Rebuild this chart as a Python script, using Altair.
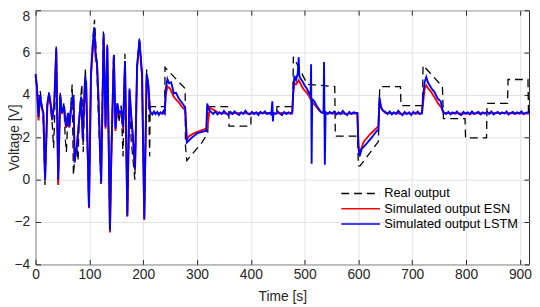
import altair as alt
import pandas as pd

# ---------------- data ----------------
series_names = ["Real output", "Simulated output ESN", "Simulated output LSTM"]
series_colors = ["#000000", "#ff0000", "#0000ff"]
series_dashes = [[8, 5], [1, 0], [1, 0]]

x_ticks = [0, 100, 200, 300, 400, 500, 600, 700, 800, 900]
y_ticks = [-4, -2, 0, 2, 4, 6, 8]

real_t = [0, 3, 5.5, 8.5, 11.5, 14, 17.5, 22, 25, 28, 31, 33.5, 35.5, 38.3, 42,
          45.7, 49, 52.5, 55, 57.3, 60, 63, 66.5, 68, 70.3, 73, 76.7, 79, 81, 84,
          86, 88.5, 92.5, 99.2, 103, 106, 109.5, 113, 116, 121.5, 126, 130, 133.3,
          138.2, 145, 148.5, 152, 155, 159, 162.5, 166, 170.5, 174.7, 177.5, 184.5,
          188.7, 193, 197.8, 202, 206.4, 209.5, 212, 213,
          240, 240.5, 278, 278.5, 281, 309, 320, 320.5, 359, 359.5, 400, 400.5,
          448, 448.5, 478, 479, 505, 556, 557, 598, 600, 603, 637, 639.5, 678, 679,
          719, 720, 756, 758, 798, 799, 838, 839, 877, 878, 915, 916, 917]
real_v = [4.8, 4.3, 3.0, 4.2, 3.6, 3.0, -0.25, 3.5, 4.15, 3.4, 2.6, 1.5, 3.0, 6.3, -0.25,
          4.1, 3.2, 3.6, 2.0, 1.3, 3.0, 2.6, 3.9, 4.5, 0.2, 1.1, 1.5, 0.9, 2.8, 3.9,
          4.5, 1.3, 5.3, -1.3, 5.0, 6.5, 7.55, 5.9, 3.5, -0.2, 7.0, 2.6, 6.4,
          -2.35, 5.95, 2.5, 3.6, 2.7, 3.5, 1.1, 5.95, -1.7, 4.2, 1.9, 0.0,
          5.4, 6.7, 5.0, -1.85, 5.2, 4.5, 1.1, 3.45,
          3.45, 5.3, 4.3, 1.6, 0.9, 1.75, 2.2, 3.45, 3.45, 2.53, 2.53, 3.15,
          3.15, 3.45, 3.45, 5.8, 4.5, 4.4, 2.06, 2.06, 0.65, 0.65, 1.8, 4.39, 4.39, 3.5,
          3.5, 5.4, 4.39, 2.88, 2.88, 1.97, 1.97, 3.6, 3.6, 4.73, 4.73, 3.15, 3.15]

lstm_t = [0, 2.5, 5.5, 8, 11.5, 14.5, 17.6, 21.9, 25, 28, 31, 34.7, 38.4, 42,
          45.7, 49.3, 53, 56.6, 60.3, 62.7, 66.3, 70.6, 72.5, 76.7, 81, 84.6, 87.7,
          92, 94, 99.2, 103, 105, 109, 112, 114, 117, 121.8, 126.5, 130, 133.3,
          138.2, 141, 145.5, 148.5, 152, 155, 159.5, 162.6, 166.2, 170.5, 174.5,
          177.8, 181, 184.8, 188.7, 193, 197.8, 202, 206.4, 209.5, 212.5,
          214, 217, 220, 223, 226, 229, 232, 235, 238, 240, 242, 245, 248, 252, 257,
          261, 266, 270, 275, 278, 281, 285, 290, 296, 302, 308, 314, 317, 319, 322,
          326, 330, 334, 338, 342, 346, 350, 354, 358, 362, 366, 370, 374, 378, 382,
          386, 390, 394, 398, 402, 406, 410, 414, 418, 422, 426, 430, 434, 438, 440,
          441, 442, 446, 450, 454, 458, 462, 466, 470, 474, 477,
          479, 481, 484, 487, 489, 490, 493, 497, 500, 504, 508, 511, 512, 513, 514,
          518, 522, 526, 530, 535, 536, 537.5, 539, 543, 547, 551, 555, 559, 563,
          567, 571, 575, 579, 583, 587, 591, 595, 598,
          600, 602, 606, 615, 625, 634, 637, 639, 642, 646, 650, 654, 658, 662, 666,
          670, 674, 678, 682, 686, 690, 694, 698, 702, 706, 710, 714, 718,
          720, 723, 726, 729, 732, 736, 741, 747, 753, 756, 759, 763, 767, 771, 775,
          779, 783, 787, 791, 795, 799, 803, 807, 811, 815, 819, 823, 827, 831, 835,
          839, 843, 847, 851, 855, 859, 863, 867, 871, 875, 879, 883, 887, 891, 895,
          899, 903, 907, 911, 915, 917]
lstm_v = [5.0, 4.4, 2.95, 4.0, 3.45, 3.15, 0.0, 3.6, 4.07, 3.6, 2.84, 3.6, 6.2, 0.0,
          4.0, 3.15, 3.46, 2.5, 3.15, 2.5, 3.46, 4.0, 0.8, 1.6, 2.84, 3.92, 1.9,
          4.85, 4.6, -1.3, 5.0, 5.9, 7.2, 5.8, 5.6, 3.8, -0.15, 6.9, 2.5, 6.3,
          -2.4, 1.5, 5.9, 2.4, 3.6, 3.15, 3.25, 2.5, 5.6, -1.7, 4.3,
          3.0, 2.0, 0.5, 5.4, 6.6, 5.0, -1.85, 5.0, 4.5, 3.3,
          3.15, 3.08, 3.22, 3.1, 3.2, 3.05, 3.18, 3.12, 3.25, 3.15, 4.3, 4.75, 4.55, 4.6, 4.07,
          4.1, 3.84, 3.7, 3.53, 3.4, 1.75, 1.85, 1.98, 2.1, 2.21, 2.25, 2.29, 2.3, 3.6, 3.3,
          3.2, 3.1, 3.22, 3.08, 3.18, 3.1, 3.25, 3.12, 3.05, 3.2, 3.1, 3.22, 3.12, 3.05, 3.18,
          3.1, 3.25, 3.12, 3.08, 3.2, 3.1, 3.18, 3.05, 3.2, 3.12, 3.22, 3.1, 3.15, 3.08, 3.7,
          2.75, 3.15, 3.1, 3.22, 3.12, 3.05, 3.2, 3.1, 3.18, 3.12, 3.2,
          4.3, 4.9, 4.7, 5.0, 5.78, 4.9, 4.75, 4.6, 4.45, 4.3, 4.1, 3.9, 5.45, 0.75, 3.8,
          3.7, 3.5, 3.35, 3.2, 3.15, 5.55, 0.7, 3.2, 3.1, 3.2, 3.12, 3.22, 3.08, 3.18,
          3.1, 3.25, 3.12, 3.05, 3.2, 3.1, 3.18, 3.15, 3.15,
          1.5, 1.1, 1.45, 1.7, 2.0, 2.3, 2.35, 3.9, 3.4, 3.25, 3.2, 3.1, 3.22, 3.08, 3.18,
          3.1, 3.25, 3.12, 3.05, 3.2, 3.1, 3.18, 3.05, 3.2, 3.12, 3.22, 3.1, 3.15,
          3.9, 4.6, 4.85, 4.6, 4.47, 4.3, 4.15, 3.84, 3.69, 3.3, 3.15, 3.1, 3.2, 3.08, 3.18,
          3.12, 3.22, 3.1, 3.05, 3.2, 3.12, 3.18, 3.08, 3.22, 3.1, 3.15, 3.2, 3.08, 3.18, 3.12,
          3.2, 3.1, 3.22, 3.08, 3.15, 3.2, 3.1, 3.18, 3.12, 3.22, 3.08, 3.15, 3.2, 3.1, 3.18,
          3.12, 3.22, 3.1, 3.15, 3.18, 3.15]

esn_t = [0, 2.5, 5.5, 8, 11.5, 14.5, 17.6, 21.9, 25, 28, 31, 34.7, 38.4, 42,
         45.7, 49.3, 53, 56.6, 60.3, 62.7, 66.3, 70.6, 72.5, 76.7, 81, 84.6, 87.7,
         92, 94, 99.2, 103, 105, 109, 112, 114, 117, 121.8, 126.5, 130, 133.3,
         138.2, 141, 145.5, 148.5, 152, 155, 159.5, 162.6, 166.2, 170.5, 174.5,
         177.8, 181, 184.8, 188.7, 193, 197.8, 202, 206.4, 209.5, 212.5,
         214, 225, 240, 242, 245, 250, 257, 266, 275, 278, 281, 285, 295, 305, 316, 319,
         324, 340, 360, 380, 400, 420, 440, 460, 477, 479, 481, 484, 489, 493, 497, 504,
         508, 514, 520, 526, 532, 560, 598, 600, 603, 610, 620, 634, 637, 639, 644, 650,
         680, 718, 720, 723, 726, 730, 735, 741, 748, 754, 758, 800, 850, 917]
esn_v = [4.9, 4.3, 2.8, 3.9, 3.4, 3.1, -0.05, 3.5, 4.0, 3.5, 2.8, 3.55, 6.1, -0.25,
         3.9, 3.1, 3.4, 2.45, 3.1, 2.45, 3.4, 3.8, 0.9, 1.55, 2.8, 3.85, 2.0,
         4.7, 4.4, -1.35, 4.9, 5.7, 6.9, 5.6, 5.5, 3.7, -0.2, 6.7, 2.4, 6.2,
         -2.5, 1.4, 5.8, 2.3, 3.5, 3.1, 3.2, 2.4, 5.5, -1.75, 4.2,
         2.9, 1.9, 0.45, 5.3, 6.5, 4.9, -1.9, 4.9, 4.4, 3.25,
         3.12, 3.15, 3.12, 4.0, 4.4, 4.3, 3.9, 3.65, 3.35, 3.3, 1.9, 2.05, 2.2, 2.3, 2.4, 2.42,
         3.4, 3.15, 3.12, 3.15, 3.12, 3.15, 3.12, 3.15, 3.12, 4.1, 4.55, 4.5, 4.7, 4.5, 4.3, 4.1,
         3.95, 3.65, 3.5, 3.3, 3.15, 3.12, 3.12, 1.6, 1.3, 1.8, 2.1, 2.45, 2.5, 3.7, 3.3, 3.15,
         3.12, 3.12, 3.6, 4.3, 4.45, 4.3, 4.15, 3.9, 3.6, 3.4, 3.15, 3.12, 3.15, 3.12]

rows = []
for name, ts, vs in [(series_names[0], real_t, real_v),
                     (series_names[1], esn_t, esn_v),
                     (series_names[2], lstm_t, lstm_v)]:
    for t, v in zip(ts, vs):
        rows.append({"t": t, "v": v, "series": name})
df = pd.DataFrame(rows)

FONT = "Liberation Sans"
TXT = "#262626"
x_scale = alt.Scale(domain=[0, 917], nice=False, zero=False)
y_scale = alt.Scale(domain=[-4, 8], nice=False, zero=False)

x_axis = alt.Axis(values=x_ticks, orient="bottom", offset=-5, tickSize=5, domain=False,
                  grid=True, gridColor="#e3e3e3", tickColor=TXT, labelColor=TXT,
                  labelFont=FONT, labelFontSize=14, labelPadding=3, labelFlush=False,
                  format="d", title="Time [s]", titleFont=FONT, titleFontSize=14,
                  titleFontWeight="normal", titleColor=TXT, titleY=31)
y_axis = alt.Axis(values=y_ticks, orient="left", offset=-5, tickSize=5, domain=False,
                  grid=True, gridColor="#e3e3e3", tickColor=TXT, labelColor=TXT,
                  labelFont=FONT, labelFontSize=14, labelPadding=6, format="d",
                  labelOffset={"condition": {"test": "datum.value == 8", "value": 6},
                               "value": 0},
                  title="Voltage [V]", titleFont=FONT, titleFontSize=14,
                  titleFontWeight="normal", titleColor=TXT, titleX=-19.5)

color = alt.Color("series:N", scale=alt.Scale(domain=series_names, range=series_colors),
                  legend=alt.Legend(title=None))
dash = alt.StrokeDash("series:N", scale=alt.Scale(domain=series_names, range=series_dashes),
                      legend=alt.Legend(title=None))

base = alt.Chart(df).encode(
    x=alt.X("t:Q", scale=x_scale, axis=x_axis),
    y=alt.Y("v:Q", scale=y_scale, axis=y_axis),
    color=color,
    strokeDash=dash,
)
widths = [1.3, 1.9, 1.9]
lines = alt.layer(*[
    base.transform_filter(alt.datum.series == n).mark_line(strokeWidth=w)
    for n, w in zip(series_names, widths)
])

ticks = alt.Chart(df).mark_line(opacity=0).encode(
    x=alt.X("t:Q", scale=x_scale,
            axis=alt.Axis(values=x_ticks, orient="top", offset=-5, tickSize=5, domain=False,
                          grid=False, labels=False, title=None, tickColor=TXT)),
    y=alt.Y("v:Q", scale=y_scale,
            axis=alt.Axis(values=y_ticks, orient="right", offset=-5, tickSize=5, domain=False,
                          grid=False, labels=False, title=None, tickColor=TXT)),
)

chart = alt.layer(lines, ticks).resolve_scale(
    x="independent", y="independent"
).properties(
    width=501, height=258,
    autosize=alt.AutoSizeParams(type="none"),
    padding={"left": 28, "top": 0, "right": 3, "bottom": 41},
).configure_view(
    stroke="#262626", strokeWidth=1
).configure_legend(
    orient="none", legendX=322, legendY=178, padding=0, rowPadding=0.5,
    symbolType="M-2.8,0H2.8", symbolSize=196, symbolStrokeWidth=1.5,
    labelFont=FONT, labelFontSize=13, labelColor="#000000", labelOffset=16,
)

chart.save("out.html", embed_options={"renderer": "svg", "actions": False})
